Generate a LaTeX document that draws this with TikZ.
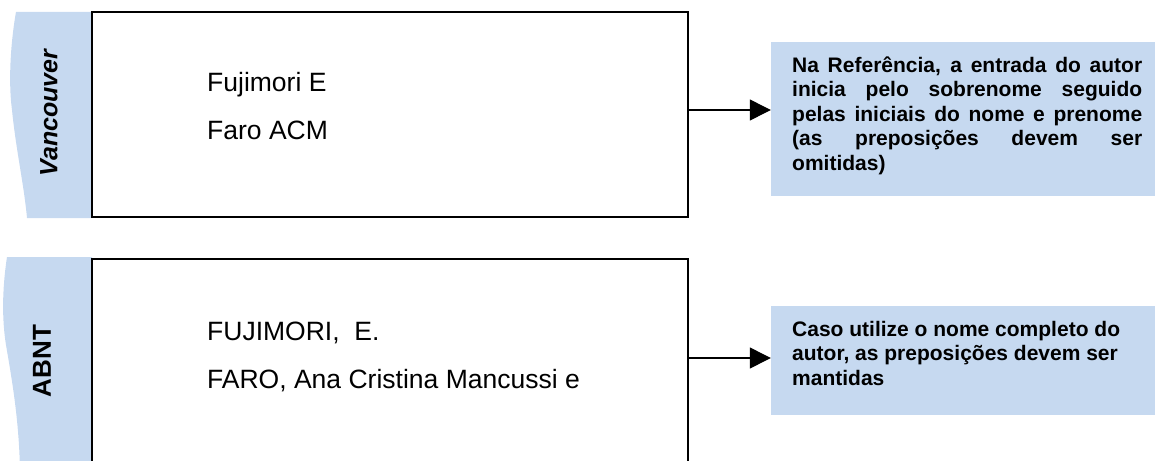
\documentclass[tikz,border=0pt]{standalone}
\usepackage{fontspec}
\setmainfont{Liberation Sans}
\usetikzlibrary{arrows.meta}
\definecolor{tabblue}{RGB}{198,217,240}
\tikzset{
  mainbox/.style={draw=black, line width=1.3pt, fill=white, inner sep=0pt},
  notebox/.style={fill=tabblue, inner sep=0pt},
  entry/.style={anchor=base west, inner sep=0pt, font=\fontsize{26.5}{32}\selectfont},
  notetext/.style={anchor=base west, inner sep=0pt, font=\fontsize{21}{24.5}\selectfont\bfseries},
  tablabel/.style={rotate=90, inner sep=0pt},
  arr/.style={line width=1.2pt, -{Triangle[length=21pt,width=21pt]}}
}
\begin{document}
\begin{tikzpicture}[x=1pt,y=-1pt]
\useasboundingbox (0,0) rectangle (1155,460);
\clip (0,0) rectangle (1155,460);
% tabs
\fill[tabblue] (92,12) -- (16,12) .. controls (11,40) and (8,80) .. (12,110)
  .. controls (16,150) and (24,185) .. (27,218) -- (92,218) -- cycle;
\fill[tabblue] (92,257) -- (7,257) .. controls (2,290) and (2,320) .. (6,345)
  .. controls (12,380) and (19,420) .. (20,470) -- (92,470) -- cycle;
\node[tablabel, font=\fontsize{25}{30}\selectfont\bfseries\itshape] (vanc) at (49,113) {Vancouver};
\node[tablabel, font=\fontsize{26}{30}\selectfont\bfseries] (abnt) at (42,361) {ABNT};
% main boxes
\node[mainbox, minimum width=596pt, minimum height=205pt] (box1) at (390,114.5) {};
\node[mainbox, minimum width=596pt, minimum height=240pt] (box2) at (390,379) {};
\node[entry] (e1) at (207,91) {Fujimori E};
\node[entry] (e2) at (207,139) {Faro ACM};
\node[entry] (e3) at (207,340) {FUJIMORI,\ \ E.};
\node[entry] (e4) at (207,388) {FARO, Ana Cristina Mancussi e};
% notes
\node[notebox, minimum width=384pt, minimum height=154pt] (note1) at (963,119) {};
\node[notebox, minimum width=384pt, minimum height=109pt] (note2) at (963,360.5) {};
\node[notetext] (t1) at (792,72) {\parbox[t]{350pt}{%
\makebox[350pt][s]{Na Referência, a entrada do autor}\\
\makebox[350pt][s]{inicia pelo sobrenome seguido}\\
\makebox[350pt][s]{pelas iniciais do nome e prenome}\\
\makebox[350pt][s]{(as preposições devem ser}\\
omitidas)}};
\node[notetext] (t2) at (792,336) {\parbox[t]{350pt}{%
Caso utilize o nome completo do\\
autor, as preposições devem ser\\
mantidas}};
% arrows
\draw[arr] (box1.east |- 0,110) -- (note1.west |- 0,110);
\draw[arr] (box2.east |- 0,358) -- (note2.west |- 0,358);
\end{tikzpicture}
\end{document}
